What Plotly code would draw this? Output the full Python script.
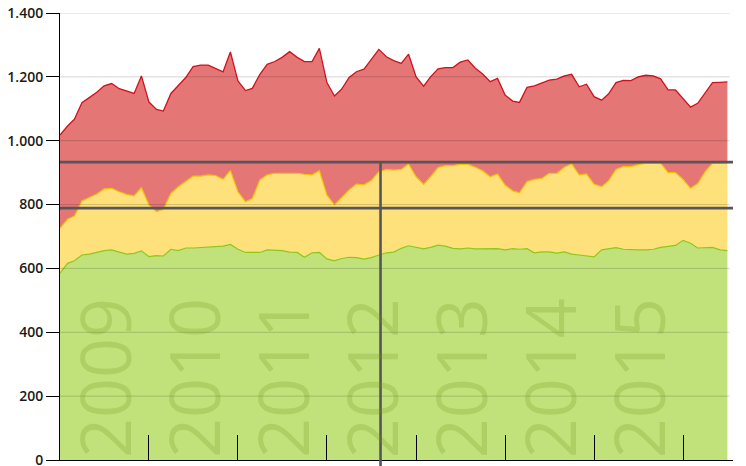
import pandas as pd
import plotly.graph_objects as go

# monthly levels (top edge of each band)
MONTHS = pd.date_range("2009-01-01", periods=91, freq="MS")

GREEN_TOP = [585, 616, 624, 642, 645, 650, 656, 658, 652, 645, 647, 655,
             637, 640, 639, 660, 656, 664, 664, 666, 668, 668, 670, 675,
             660, 650, 650, 650, 658, 658, 656, 651, 650, 635, 649, 650,
             630, 624, 631, 635, 634, 629, 634, 642, 649, 651, 663, 671,
             665, 661, 666, 673, 670, 663, 661, 664, 661, 661, 662, 662,
             658, 662, 660, 662, 649, 652, 652, 648, 652, 645, 642, 639,
             636, 658, 662, 665, 660, 658, 658, 658, 660, 666, 670, 672,
             688, 679, 664, 664, 666, 658, 656]

YELLOW_TOP = [726, 754, 764, 811, 822, 833, 849, 851, 840, 832, 827, 853,
              799, 778, 785, 835, 856, 872, 889, 889, 893, 891, 879, 907,
              840, 809, 819, 877, 893, 898, 898, 900, 898, 895, 893, 906,
              830, 799, 823, 846, 864, 862, 875, 903, 910, 908, 910, 927,
              887, 863, 887, 916, 922, 922, 926, 926, 917, 906, 887, 896,
              861, 843, 837, 872, 879, 882, 898, 898, 917, 927, 893, 896,
              864, 856, 874, 910, 919, 919, 925, 930, 930, 930, 900, 900,
              879, 851, 866, 903, 930, 930, 930]

RED_TOP = [1018, 1046, 1067, 1119, 1135, 1152, 1172, 1179, 1163, 1156, 1148, 1203,
           1121, 1098, 1093, 1148, 1174, 1198, 1232, 1237, 1237, 1227, 1216, 1278,
           1187, 1157, 1164, 1208, 1239, 1248, 1261, 1279, 1261, 1248, 1248, 1289,
           1182, 1140, 1161, 1198, 1216, 1224, 1255, 1286, 1263, 1251, 1242, 1271,
           1200, 1171, 1200, 1225, 1229, 1229, 1246, 1253, 1227, 1209, 1185, 1195,
           1143, 1124, 1120, 1167, 1172, 1180, 1190, 1193, 1203, 1208, 1169, 1177,
           1138, 1127, 1146, 1182, 1189, 1188, 1200, 1205, 1203, 1194, 1159, 1159,
           1133, 1105, 1117, 1150, 1182, 1183, 1184]

YEARS = ["2009", "2010", "2011", "2012", "2013", "2014", "2015"]
Y_TICKS = [0, 200, 400, 600, 800, 1000, 1200, 1400]
THRESHOLDS = [933, 789]
MARKER_DATE = "2012-08-08"
Y_MAX = 1400

fig = go.Figure()

fig.add_trace(go.Scatter(x=MONTHS, y=GREEN_TOP, mode="lines", fill="tozeroy",
                         fillcolor="#C1E27A", line=dict(color="#8CC71E", width=1.2)))
fig.add_trace(go.Scatter(x=MONTHS, y=YELLOW_TOP, mode="lines", fill="tonexty",
                         fillcolor="#FEE17A", line=dict(color="#F3C200", width=1.2)))
fig.add_trace(go.Scatter(x=MONTHS, y=RED_TOP, mode="lines", fill="tonexty",
                         fillcolor="#E47676", line=dict(color="#D0121E", width=1.3)))

# gridlines drawn on top of the bands
for v in Y_TICKS[1:]:
    fig.add_shape(type="line", xref="paper", x0=0, x1=0.995, yref="y", y0=v, y1=v,
                  line=dict(color="rgba(0,0,0,0.17)", width=1), layer="above")

for v in THRESHOLDS:
    fig.add_shape(type="line", xref="paper", x0=0, x1=1, yref="y", y0=v, y1=v,
                  line=dict(color="#56565A", width=2.6), layer="above")

fig.add_shape(type="line", xref="x", x0=MARKER_DATE, x1=MARKER_DATE,
              yref="paper", y0=-0.02, y1=THRESHOLDS[0] / Y_MAX,
              line=dict(color="#56565A", width=2.6), layer="above")

for yr in YEARS:
    fig.add_annotation(x=f"{yr}-07-01", xref="x", y=0, yref="y", yanchor="bottom",
                       text=yr, textangle=-90, showarrow=False,
                       font=dict(family="Open Sans", size=70, color="rgba(110,145,30,0.24)"))

fig.update_xaxes(range=["2009-01-01", "2016-07-24"], showgrid=False,
                 showline=True, linecolor="black", linewidth=1, automargin=False,
                 tick0="2009-01-01", dtick="M12", ticks="inside", ticklen=25,
                 tickcolor="black", tickwidth=1, showticklabels=False, zeroline=False)
fig.update_yaxes(range=[0, Y_MAX], tickvals=Y_TICKS, tickformat=",d", showgrid=False,
                 showline=True, linecolor="black", linewidth=1, automargin=False,
                 ticks="outside", ticklen=13, tickcolor="black", zeroline=False,
                 ticklabeloverflow="allow",
                 tickfont=dict(family="Open Sans", size=14, color="#1a1a1a", weight=600))

fig.update_layout(width=746, height=466, showlegend=False,
                  margin=dict(l=60, r=13, t=13, b=6, autoexpand=False),
                  separators=",.",
                  plot_bgcolor="white", paper_bgcolor="white")

# page has a default body margin; drop it so the chart sits at 0,0
fig.write_html("out.html", config={"displayModeBar": False},
               post_script="document.body.style.margin='0';")
